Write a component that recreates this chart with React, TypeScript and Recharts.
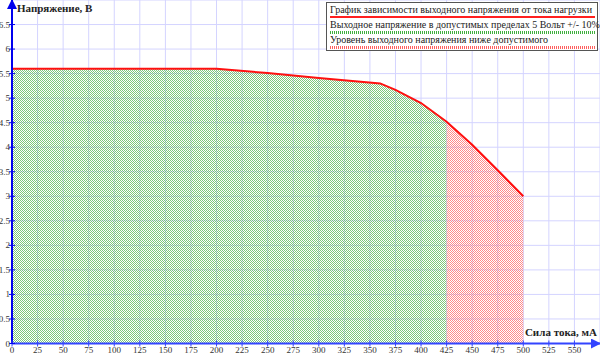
import {
  ComposedChart,
  Area,
  Line,
  XAxis,
  YAxis,
  CartesianGrid,
} from "recharts";

const current = [0, 200, 250, 300, 360, 375, 400, 425, 450, 475, 500];
const voltage = [5.6, 5.6, 5.51, 5.41, 5.3, 5.17, 4.9, 4.52, 4.05, 3.53, 3.0];
const limitCurrent = 425;

const xTicks = [0, 25, 50, 75, 100, 125, 150, 175, 200, 225, 250, 275, 300, 325, 350, 375, 400, 425, 450, 475, 500, 525, 550];
const yTicks = [0, 0.5, 1, 1.5, 2, 2.5, 3, 3.5, 4, 4.5, 5, 5.5, 6, 6.5];

const legendItems = [
  "График зависимости выходного напряжения от тока нагрузки",
  "Выходное напряжение в допустимых пределах 5 Вольт +/- 10%",
  "Уровень выходного напряжения ниже допустимого",
];

const data = current.map((c, i) => ({
  current: c,
  voltage: voltage[i],
  ok: c <= limitCurrent ? voltage[i] : null,
  low: c >= limitCurrent ? voltage[i] : null,
}));

const YTick = (props: any) => {
  const { x, y, payload } = props;
  return (
    <g>
      <line x1={x - 3} x2={x + 3} y1={y} y2={y} stroke="#0000ee" strokeWidth={1} />
      <text x={x - 2} y={y + 3} textAnchor="end" fontSize={9} fill="#333" fontFamily="Liberation Serif, serif">
        {payload.value}
      </text>
    </g>
  );
};

const XTick = (props: any) => {
  const { x, y, payload } = props;
  return (
    <g>
      <line x1={x} x2={x} y1={y - 3} y2={y + 3} stroke="#3344ff" strokeWidth={1} />
      <text x={x} y={y + 9} textAnchor="middle" fontSize={9} fill="#333" fontFamily="Liberation Serif, serif">
        {payload.value}
      </text>
    </g>
  );
};

const Swatch = ({ kind }: { kind: number }) => {
  if (kind === 0) {
    return <div style={{ height: 2, background: "#ff2020" }} />;
  }
  const col = kind === 1 ? "#40b040" : "#ff6060";
  return (
    <div
      style={{
        height: 3,
        backgroundImage: `repeating-linear-gradient(90deg, ${col} 0 1px, transparent 1px 2px)`,
      }}
    />
  );
};

export default function App() {
  return (
    <div style={{ position: "absolute", left: 0, top: 0, width: 600, height: 353, background: "#fff" }}>
      <ComposedChart
        width={600}
        height={353}
        data={data}
        margin={{ top: 0, right: 0, left: 11, bottom: 8.5 }}
        style={{ overflow: "visible" }}
      >
        <defs>
          <pattern id="greenPat" width="2" height="2" patternUnits="userSpaceOnUse">
            <rect x="0" y="0" width="1" height="1" fill="#7cc87c" />
            <rect x="1" y="1" width="1" height="1" fill="#7cc87c" />
          </pattern>
          <pattern id="redPat" width="2" height="2" patternUnits="userSpaceOnUse">
            <rect x="0" y="0" width="1" height="1" fill="#ff8a8a" />
            <rect x="1" y="1" width="1" height="1" fill="#ff8a8a" />
          </pattern>
          <marker id="arrowY" viewBox="0 0 10 10" refX="9" refY="5" markerWidth="5" markerHeight="5" orient="auto-start-reverse">
            <path d="M0,0 L10,5 L0,10 z" fill="#0000ee" />
          </marker>
          <marker id="arrowX" viewBox="0 0 10 10" refX="9" refY="5" markerWidth="5" markerHeight="5" orient="auto">
            <path d="M0,0 L10,5 L0,10 z" fill="#3344ff" />
          </marker>
        </defs>
        <CartesianGrid stroke="#d4d4ff" strokeWidth={1} />
        <Area
          dataKey="ok"
          type="linear"
          stroke="none"
          fill="url(#greenPat)"
          fillOpacity={1}
          isAnimationActive={false}
          connectNulls={false}
        />
        <Area
          dataKey="low"
          type="linear"
          stroke="none"
          fill="url(#redPat)"
          fillOpacity={1}
          isAnimationActive={false}
          connectNulls={false}
        />
        <Line
          dataKey="voltage"
          type="linear"
          stroke="#ff1010"
          strokeWidth={2}
          dot={false}
          isAnimationActive={false}
        />
        <XAxis
          dataKey="current"
          type="number"
          domain={[0, 575]}
          ticks={xTicks}
          height={1}
          tickSize={0}
          tickMargin={0}
          tickLine={false}
          tick={<XTick />}
          interval={0}
          axisLine={{ stroke: "#3344ff", strokeWidth: 2, markerEnd: "url(#arrowX)" }}
        />
        <YAxis
          type="number"
          domain={[0, 7]}
          ticks={yTicks}
          width={1}
          tickSize={0}
          tickMargin={0}
          tickLine={false}
          tick={<YTick />}
          interval={0}
          axisLine={{ stroke: "#0000ee", strokeWidth: 2, markerStart: "url(#arrowY)" }}
        />
      </ComposedChart>

      <div
        style={{
          position: "absolute",
          left: 17,
          top: 2,
          fontFamily: "Liberation Serif, serif",
          fontWeight: "bold",
          fontSize: 11,
          color: "#222",
        }}
      >
        Напряжение, В
      </div>
      <div
        style={{
          position: "absolute",
          right: 3,
          top: 326,
          fontFamily: "Liberation Serif, serif",
          fontWeight: "bold",
          fontSize: 11,
          color: "#222",
        }}
      >
        Сила тока, мА
      </div>

      <div
        style={{
          position: "absolute",
          left: 326,
          top: 2,
          width: 272,
          padding: "1px 2px 1px 3px",
          border: "1px solid #555",
          background: "#fff",
          fontFamily: "Liberation Serif, serif",
          fontSize: 10,
          color: "#222",
          boxSizing: "border-box",
        }}
      >
        {legendItems.map((t, i) => (
          <div key={i} style={{ height: 15, whiteSpace: "nowrap" }}>
            <div style={{ height: 12, lineHeight: "12px" }}>{t}</div>
            <Swatch kind={i} />
          </div>
        ))}
      </div>
    </div>
  );
}
